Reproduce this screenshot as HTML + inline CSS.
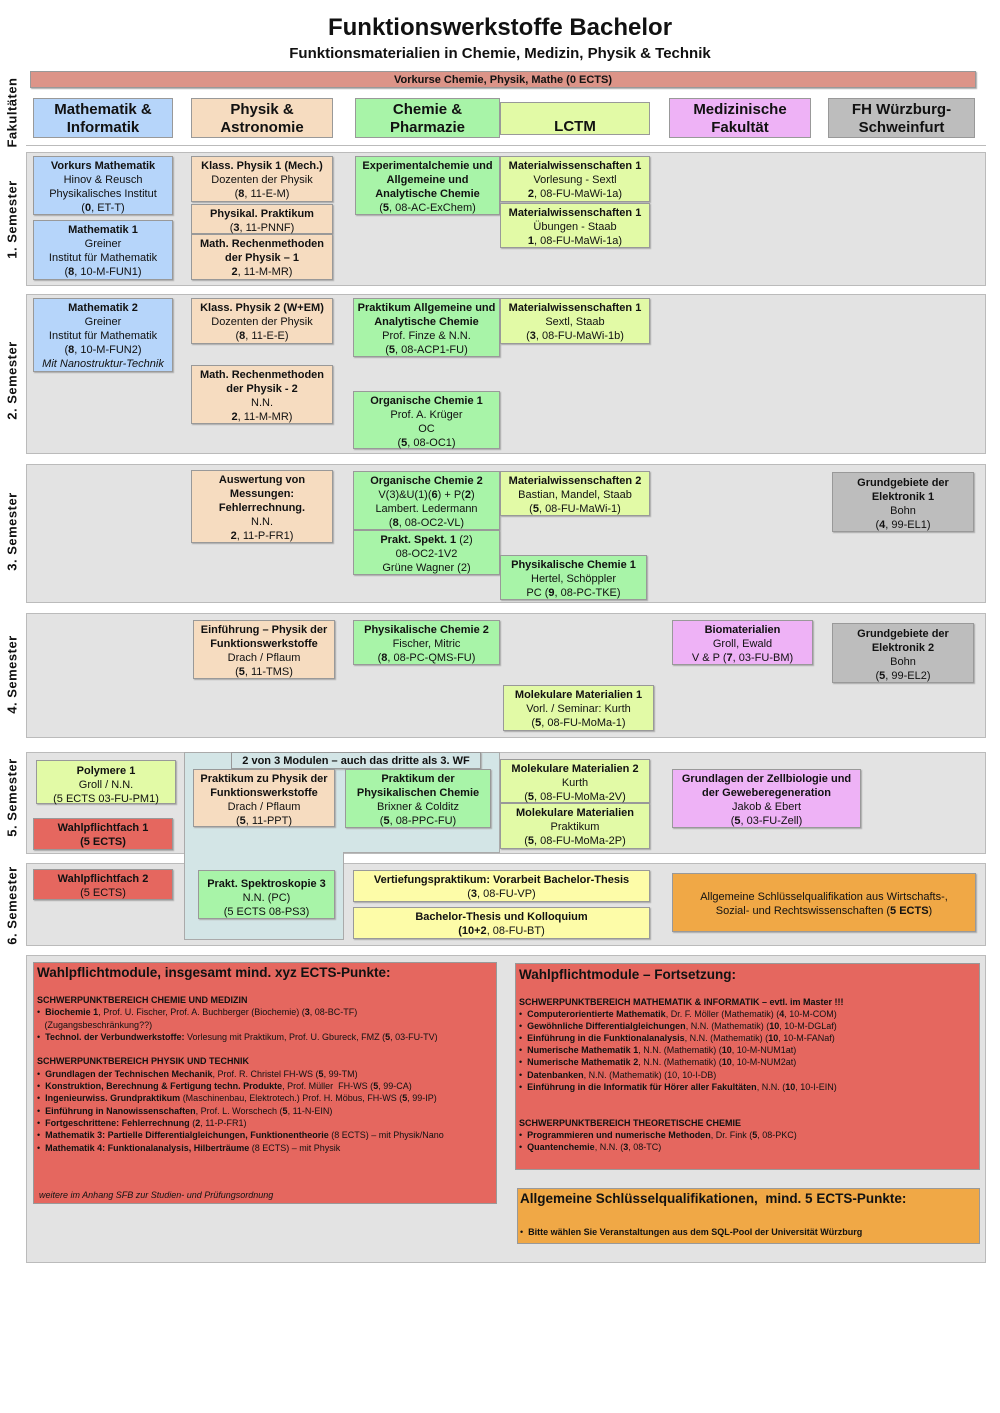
<!DOCTYPE html>
<html><head><meta charset="utf-8"><style>
*{margin:0;padding:0;box-sizing:border-box}
body{width:1000px;height:1413px;background:#fff;position:relative;font-family:"Liberation Sans Narrow","Liberation Sans",sans-serif;color:#111;overflow:hidden}
.a{position:absolute}
.b{position:absolute;border:1px solid #999;text-align:center;font-size:11px;line-height:14px;padding-top:2px;box-shadow:1px 1px 1px #aaa}
.band{position:absolute;background:#e3e3e3;border:1px solid #bbb;left:26px;width:960px}
.side{position:absolute;font-family:"Liberation Sans",sans-serif;font-weight:bold;font-size:13px;transform:rotate(-90deg);white-space:nowrap;width:150px;text-align:center;left:-63px;letter-spacing:0.5px}
.bl{background:#b6d5fa}.pe{background:#f6dcc0}.gr{background:#a8f4a8}.lc{background:#e2faa6}.pk{background:#eeb2f6}.gy{background:#bdbdbd}.rd{background:#e5675f}.or{background:#f0a846}.ye{background:#fdfca8}
.fac{position:absolute;top:98px;height:40px;font-size:15px;line-height:18px;font-weight:bold;text-align:center;border:1px solid #999;padding-top:2px}
.t{font-family:"Liberation Sans",sans-serif;font-size:9.5px;line-height:12px;position:absolute}
.t b{font-weight:bold}
ul{list-style:none}
</style></head><body>
<div class="a" style="left:0;width:1000px;top:14px;text-align:center;font-family:'Liberation Sans Narrow','Liberation Sans',sans-serif;font-weight:bold;font-size:24px">Funktionswerkstoffe Bachelor</div>
<div class="a" style="left:0;width:1000px;top:45px;text-align:center;font-weight:bold;font-size:15px">Funktionsmaterialien in Chemie, Medizin, Physik &amp; Technik</div>
<div class="b" style="left:30px;top:71px;width:946px;height:17px;background:#dc9488;font-weight:bold;padding-top:1px">Vorkurse Chemie, Physik, Mathe (0 ECTS)</div>

<div class="side" style="top:105px">Fakultäten</div>
<div class="fac bl" style="left:33px;width:140px">Mathematik &amp;<br>Informatik</div>
<div class="fac pe" style="left:191px;width:142px">Physik &amp;<br>Astronomie</div>
<div class="fac gr" style="left:355px;width:145px">Chemie &amp;<br>Pharmazie</div>
<div class="fac lc" style="left:500px;width:150px;top:102px;height:33px;padding-top:15px">LCTM</div>
<div class="fac pk" style="left:669px;width:142px">Medizinische<br>Fakultät</div>
<div class="fac gy" style="left:828px;width:147px">FH Würzburg-<br>Schweinfurt</div>
<div class="a" style="left:26px;top:145px;width:960px;border-top:1px solid #bbb"></div>

<!-- Sem 1 -->
<div class="band" style="top:152px;height:134px"></div>
<div class="side" style="top:212px">1. Semester</div>
<div class="b bl" style="left:33px;top:156px;width:140px;height:59px"><b>Vorkurs Mathematik</b><br>Hinov &amp; Reusch<br>Physikalisches Institut<br>(<b>0</b>, ET-T)</div>
<div class="b bl" style="left:33px;top:220px;width:140px;height:60px"><b>Mathematik 1</b><br>Greiner<br>Institut für Mathematik<br>(<b>8</b>, 10-M-FUN1)</div>
<div class="b pe" style="left:191px;top:156px;width:142px;height:46px"><b>Klass. Physik 1 (Mech.)</b><br>Dozenten der Physik<br>(<b>8</b>, 11-E-M)</div>
<div class="b pe" style="left:191px;top:204px;width:142px;height:30px"><b>Physikal. Praktikum</b><br>(<b>3</b>, 11-PNNF)</div>
<div class="b pe" style="left:191px;top:234px;width:142px;height:46px"><b>Math. Rechenmethoden<br>der Physik – 1</b><br><b>2</b>, 11-M-MR)</div>
<div class="b gr" style="left:355px;top:156px;width:145px;height:59px"><b>Experimentalchemie und Allgemeine und Analytische Chemie</b><br>(<b>5</b>, 08-AC-ExChem)</div>
<div class="b lc" style="left:500px;top:156px;width:150px;height:46px"><b>Materialwissenschaften 1</b><br>Vorlesung - Sextl<br><b>2</b>, 08-FU-MaWi-1a)</div>
<div class="b lc" style="left:500px;top:203px;width:150px;height:45px"><b>Materialwissenschaften 1</b><br>Übungen - Staab<br><b>1</b>, 08-FU-MaWi-1a)</div>

<!-- Sem 2 -->
<div class="band" style="top:294px;height:160px"></div>
<div class="side" style="top:373px">2. Semester</div>
<div class="b bl" style="left:33px;top:298px;width:140px;height:74px"><b>Mathematik 2</b><br>Greiner<br>Institut für Mathematik<br>(<b>8</b>, 10-M-FUN2)<br><i>Mit Nanostruktur-Technik</i></div>
<div class="b pe" style="left:191px;top:298px;width:142px;height:46px"><b>Klass. Physik 2 (W+EM)</b><br>Dozenten der Physik<br>(<b>8</b>, 11-E-E)</div>
<div class="b pe" style="left:191px;top:365px;width:142px;height:59px"><b>Math. Rechenmethoden<br>der Physik - 2</b><br>N.N.<br><b>2</b>, 11-M-MR)</div>
<div class="b gr" style="left:353px;top:298px;width:147px;height:59px"><b>Praktikum Allgemeine und Analytische Chemie</b><br>Prof. Finze &amp; N.N.<br>(<b>5</b>, 08-ACP1-FU)</div>
<div class="b gr" style="left:353px;top:391px;width:147px;height:58px"><b>Organische Chemie 1</b><br>Prof. A. Krüger<br>OC<br>(<b>5</b>, 08-OC1)</div>
<div class="b lc" style="left:500px;top:298px;width:150px;height:46px"><b>Materialwissenschaften 1</b><br>Sextl, Staab<br>(<b>3</b>, 08-FU-MaWi-1b)</div>

<!-- Sem 3 -->
<div class="band" style="top:464px;height:139px"></div>
<div class="side" style="top:524px">3. Semester</div>
<div class="b pe" style="left:191px;top:470px;width:142px;height:73px"><b>Auswertung von Messungen: Fehlerrechnung.</b><br>N.N.<br><b>2</b>, 11-P-FR1)</div>
<div class="b gr" style="left:353px;top:471px;width:147px;height:59px"><b>Organische Chemie 2</b><br>V(3)&amp;U(1)(<b>6</b>) + P(<b>2</b>)<br>Lambert. Ledermann<br>(<b>8</b>, 08-OC2-VL)</div>
<div class="b gr" style="left:353px;top:530px;width:147px;height:45px"><b>Prakt. Spekt. 1</b> (2)<br>08-OC2-1V2<br>Grüne Wagner (2)</div>
<div class="b lc" style="left:500px;top:471px;width:150px;height:45px"><b>Materialwissenschaften 2</b><br>Bastian, Mandel, Staab<br>(<b>5</b>, 08-FU-MaWi-1)</div>
<div class="b gr" style="left:500px;top:555px;width:147px;height:45px"><b>Physikalische Chemie 1</b><br>Hertel, Schöppler<br>PC (<b>9</b>, 08-PC-TKE)</div>
<div class="b gy" style="left:832px;top:472px;width:142px;height:60px;padding-top:3px"><b>Grundgebiete der Elektronik 1</b><br>Bohn<br>(<b>4</b>, 99-EL1)</div>

<!-- Sem 4 -->
<div class="band" style="top:613px;height:125px"></div>
<div class="side" style="top:667px">4. Semester</div>
<div class="b pe" style="left:193px;top:620px;width:142px;height:59px"><b>Einführung – Physik der Funktionswerkstoffe</b><br>Drach / Pflaum<br>(<b>5</b>, 11-TMS)</div>
<div class="b gr" style="left:353px;top:620px;width:147px;height:45px"><b>Physikalische Chemie 2</b><br>Fischer, Mitric<br>(<b>8</b>, 08-PC-QMS-FU)</div>
<div class="b pk" style="left:672px;top:620px;width:141px;height:45px"><b>Biomaterialien</b><br>Groll, Ewald<br>V &amp; P (<b>7</b>, 03-FU-BM)</div>
<div class="b gy" style="left:832px;top:623px;width:142px;height:60px;padding-top:3px"><b>Grundgebiete der Elektronik 2</b><br>Bohn<br>(<b>5</b>,  99-EL2)</div>
<div class="b lc" style="left:503px;top:685px;width:151px;height:46px"><b>Molekulare Materialien 1</b><br>Vorl. / Seminar: Kurth<br>(<b>5</b>, 08-FU-MoMa-1)</div>

<!-- Sem 5 -->
<div class="band" style="top:752px;height:102px"></div>
<div class="band" style="top:863px;height:83px"></div>
<div class="a" style="left:184px;top:752px;width:316px;height:101px;background:#d3e5e6;border:1px solid #aaa"></div>
<div class="a" style="left:184px;top:852px;width:160px;height:88px;background:#d3e5e6;border:1px solid #aaa;border-top:none"></div>
<div class="side" style="top:790px">5. Semester</div>
<div class="side" style="top:898px">6. Semester</div>
<div class="b" style="left:231px;top:752px;width:250px;height:17px;background:#d3e5e6;font-weight:bold;padding-top:1px">2 von 3 Modulen – auch das dritte als 3. WF</div>
<div class="b lc" style="left:36px;top:760px;width:140px;height:44px;padding-top:3px"><b>Polymere 1</b><br>Groll / N.N.<br>(5 ECTS 03-FU-PM1)</div>
<div class="b rd" style="left:33px;top:818px;width:140px;height:32px;padding-top:2px"><b>Wahlpflichtfach 1<br>(5 ECTS)</b></div>
<div class="b pe" style="left:193px;top:769px;width:142px;height:58px"><b>Praktikum zu Physik der Funktionswerkstoffe</b><br>Drach / Pflaum<br>(<b>5</b>, 11-PPT)</div>
<div class="b gr" style="left:345px;top:769px;width:146px;height:59px"><b>Praktikum der Physikalischen Chemie</b><br>Brixner &amp; Colditz<br>(<b>5</b>, 08-PPC-FU)</div>
<div class="b lc" style="left:500px;top:759px;width:150px;height:44px"><b>Molekulare Materialien 2</b><br>Kurth<br>(<b>5</b>, 08-FU-MoMa-2V)</div>
<div class="b lc" style="left:500px;top:803px;width:150px;height:46px"><b>Molekulare Materialien</b><br>Praktikum<br>(<b>5</b>, 08-FU-MoMa-2P)</div>
<div class="b pk" style="left:672px;top:769px;width:189px;height:59px;padding-top:2px"><b>Grundlagen der Zellbiologie und der Geweberegeneration</b><br>Jakob &amp; Ebert<br>(<b>5</b>, 03-FU-Zell)</div>

<!-- Sem 6 -->
<div class="b rd" style="left:33px;top:869px;width:140px;height:31px;padding-top:2px"><b>Wahlpflichtfach 2</b><br>(5 ECTS)</div>
<div class="b gr" style="left:198px;top:870px;width:137px;height:49px;padding-top:6px"><b>Prakt. Spektroskopie 3</b><br>N.N. (PC)<br>(5 ECTS 08-PS3)</div>
<div class="b ye" style="left:353px;top:870px;width:297px;height:32px"><b>Vertiefungspraktikum: Vorarbeit Bachelor-Thesis</b><br>(<b>3</b>, 08-FU-VP)</div>
<div class="b ye" style="left:353px;top:907px;width:297px;height:32px"><b>Bachelor-Thesis und Kolloquium<br>(10+2</b>, 08-FU-BT)</div>
<div class="b or" style="left:672px;top:873px;width:304px;height:59px;padding-top:16px">Allgemeine Schlüsselqualifikation aus Wirtschafts-,<br>Sozial- und Rechtswissenschaften (<b>5 ECTS</b>)</div>

<!-- Bottom -->
<div class="band" style="top:955px;height:308px"></div>
<div class="a rd" style="left:33px;top:962px;width:464px;height:242px;border:1px solid #999"></div>
<div class="t" style="left:37px;top:965px;font-size:13.5px;line-height:16px;font-weight:bold">Wahlpflichtmodule, insgesamt mind. xyz ECTS-Punkte:</div>
<div class="t" style="left:37px;top:994px;font-size:9px;line-height:12.3px">
<b>SCHWERPUNKTBEREICH CHEMIE UND MEDIZIN</b><br>
•&nbsp; <b>Biochemie 1</b>, Prof. U. Fischer, Prof. A. Buchberger (Biochemie) (<b>3</b>, 08-BC-TF)<br>
&nbsp;&nbsp;&nbsp;(Zugangsbeschränkung??)<br>
•&nbsp; <b>Technol. der Verbundwerkstoffe:</b> Vorlesung mit Praktikum, Prof. U. Gbureck, FMZ (<b>5</b>, 03-FU-TV)<br><br>
<b>SCHWERPUNKTBEREICH PHYSIK UND TECHNIK</b><br>
•&nbsp; <b>Grundlagen der Technischen Mechanik</b>, Prof. R. Christel FH-WS (<b>5</b>, 99-TM)<br>
•&nbsp; <b>Konstruktion, Berechnung &amp; Fertigung techn. Produkte</b>, Prof. Müller&nbsp; FH-WS (<b>5</b>, 99-CA)<br>
•&nbsp; <b>Ingenieurwiss. Grundpraktikum</b> (Maschinenbau, Elektrotech.) Prof. H. Möbus, FH-WS (<b>5</b>, 99-IP)<br>
•&nbsp; <b>Einführung in Nanowissenschaften</b>, Prof. L. Worschech (<b>5</b>, 11-N-EIN)<br>
•&nbsp; <b>Fortgeschrittene: Fehlerrechnung</b> (<b>2</b>, 11-P-FR1)<br>
•&nbsp; <b>Mathematik 3: Partielle Differentialgleichungen, Funktionentheorie</b> (8 ECTS) – mit Physik/Nano<br>
•&nbsp; <b>Mathematik 4: Funktionalanalysis, Hilberträume</b> (8 ECTS) – mit Physik</div>
<div class="t" style="left:39px;top:1189px;font-size:9px;font-style:italic">weitere im Anhang SFB zur Studien- und Prüfungsordnung</div>

<div class="a rd" style="left:515px;top:963px;width:465px;height:207px;border:1px solid #999"></div>
<div class="t" style="left:519px;top:967px;font-size:13.5px;line-height:16px;font-weight:bold">Wahlpflichtmodule – Fortsetzung:</div>
<div class="t" style="left:519px;top:996px;font-size:9px;line-height:12.1px">
<b>SCHWERPUNKTBEREICH MATHEMATIK &amp; INFORMATIK – evtl. im Master !!!</b><br>
•&nbsp; <b>Computerorientierte Mathematik</b>, Dr. F. Möller (Mathematik) (<b>4</b>, 10-M-COM)<br>
•&nbsp; <b>Gewöhnliche Differentialgleichungen</b>, N.N. (Mathematik) (<b>10</b>, 10-M-DGLaf)<br>
•&nbsp; <b>Einführung in die Funktionalanalysis</b>, N.N. (Mathematik) (<b>10</b>, 10-M-FANaf)<br>
•&nbsp; <b>Numerische Mathematik 1</b>, N.N. (Mathematik) (<b>10</b>, 10-M-NUM1at)<br>
•&nbsp; <b>Numerische Mathematik 2</b>, N.N. (Mathematik) (<b>10</b>, 10-M-NUM2at)<br>
•&nbsp; <b>Datenbanken</b>, N.N. (Mathematik) (10, 10-I-DB)<br>
•&nbsp; <b>Einführung in die Informatik für Hörer aller Fakultäten</b>, N.N. (<b>10</b>, 10-I-EIN)<br><br><br>
<b>SCHWERPUNKTBEREICH THEORETISCHE CHEMIE</b><br>
•&nbsp; <b>Programmieren und numerische Methoden</b>, Dr. Fink (<b>5</b>, 08-PKC)<br>
•&nbsp; <b>Quantenchemie</b>, N.N. (<b>3</b>, 08-TC)</div>

<div class="a or" style="left:517px;top:1188px;width:463px;height:56px;border:1px solid #999"></div>
<div class="t" style="left:520px;top:1191px;font-size:13.5px;line-height:16px;font-weight:bold">Allgemeine Schlüsselqualifikationen,&nbsp; mind. 5 ECTS-Punkte:</div>
<div class="t" style="left:520px;top:1226px;font-size:9px">•&nbsp; <b>Bitte wählen Sie Veranstaltungen aus dem SQL-Pool der Universität Würzburg</b></div>
</body></html>
